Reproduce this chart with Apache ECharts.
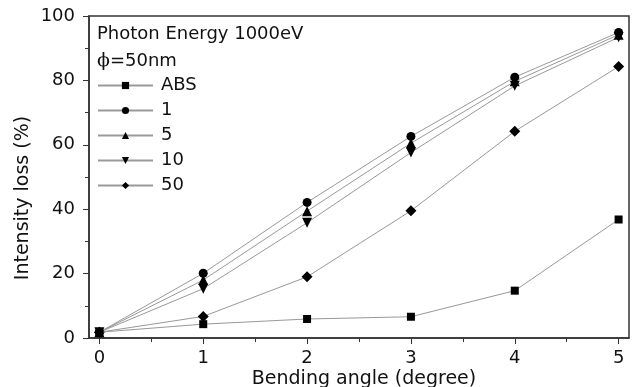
<!DOCTYPE html>
<html>
<head>
<meta charset="utf-8">
<script src="https://cdn.jsdelivr.net/npm/echarts@6/dist/echarts.min.js"></script>
<style>
    html,body{margin:0;padding:0;background:#fff;}
    #chart{width:640px;height:387px;}
</style>
</head>
<body>
<div id="chart"></div>
<script>
// 数据
var angles = [0, 1, 2, 3, 4, 5];
var seriesNames = ['ABS', '1', '5', '10', '50'];
var absVals = [1.8, 4.3, 5.9, 6.6, 14.7, 36.8];
var vals1 = [1.8, 20.1, 42.1, 62.6, 81.0, 94.9];
var vals5 = [1.8, 18.0, 39.4, 60.5, 79.7, 94.2];
var vals10 = [1.8, 15.3, 35.8, 57.6, 78.3, 93.4];
var vals50 = [1.8, 6.7, 19.0, 39.5, 64.2, 84.3];
var xMajor = [0, 1, 2, 3, 4, 5];
var xMinor = [0.5, 1.5, 2.5, 3.5, 4.5];

var font = 'DejaVu Sans, Liberation Sans, sans-serif';
var axisColor = '#333';
var txtColor = '#111';

function pairs(vals) {
    var out = [];
    for (var i = 0; i < angles.length; i++) {
        out.push([angles[i], vals[i]]);
    }
    return out;
}

var downTri = 'path://M0,0 L10,0 L5,9 Z';
var symbols = ['rect', 'circle', 'triangle', downTri, 'diamond'];
var sizes = [8, 9, 10, 10, 11];
var allVals = [absVals, vals1, vals5, vals10, vals50];

var series = [];
for (var i = 0; i < seriesNames.length; i++) {
    series.push({
        name: seriesNames[i],
        type: 'line',
        data: pairs(allVals[i]),
        symbol: symbols[i],
        symbolSize: sizes[i],
        showAllSymbol: true,
        lineStyle: {color: '#999', width: 1},
        itemStyle: {color: '#000'},
        z: 5 - i
    });
}

var myChart = echarts.init(document.getElementById('chart'));
var option = {
    animation: false,
    backgroundColor: '#fff',
    textStyle: {fontFamily: font},
    grid: {
        left: 89, right: 11, top: 16, bottom: 49,
        outerBoundsMode: 'none',
        containLabel: false,
        show: true, borderColor: axisColor, borderWidth: 1.5, backgroundColor: 'transparent'
    },
    graphic: [{
        type: 'text',
        left: 97, top: 25,
        style: {text: 'Photon Energy 1000eV', font: '18px ' + font, fill: txtColor}
    }, {
        type: 'text',
        left: 97, top: 52,
        style: {
            text: '{p|ϕ}=50nm', font: '18px ' + font, fill: txtColor,
            rich: {p: {fontFamily: 'DejaVu Serif, serif', fontSize: 19, fill: txtColor}}
        }
    }, {
        type: 'text',
        x: 23, y: 198, rotation: Math.PI / 2,
        style: {text: 'Intensity loss (%)', font: '19px ' + font, fill: txtColor,
            align: 'center', verticalAlign: 'middle'}
    }, {
        type: 'text',
        x: 364, y: 379,
        style: {text: 'Bending angle (degree)', font: '19px ' + font, fill: txtColor,
            align: 'center', verticalAlign: 'middle'}
    }],
    legend: {
        orient: 'vertical',
        left: 97, top: 76.5,
        padding: 0,
        itemWidth: 55, itemHeight: 9, itemGap: 7,
        data: seriesNames,
        textStyle: {fontFamily: font, fontSize: 18, color: txtColor, padding: [0, 0, 0, 3]}
    },
    xAxis: [{
        type: 'value',
        min: -0.1, max: 5.1,
        axisLine: {show: true, onZero: false, lineStyle: {color: axisColor, width: 1.5}},
        axisTick: {show: true, length: 6, customValues: xMajor, lineStyle: {color: axisColor}},
        axisLabel: {customValues: xMajor, fontFamily: font, fontSize: 18, color: txtColor, margin: 11},
        splitLine: {show: false}
    }, {
        type: 'value',
        min: -0.1, max: 5.1,
        position: 'bottom',
        axisLine: {show: false, onZero: false},
        axisTick: {show: true, length: 4, customValues: xMinor, lineStyle: {color: axisColor}},
        axisLabel: {show: false},
        splitLine: {show: false}
    }],
    yAxis: {
        type: 'value',
        min: 0, max: 100, interval: 20,
        axisLine: {show: true, onZero: false, lineStyle: {color: axisColor, width: 1.5}},
        axisTick: {show: true, length: 6, lineStyle: {color: axisColor}},
        minorTick: {show: true, splitNumber: 2, length: 4, lineStyle: {color: axisColor}},
        axisLabel: {fontFamily: font, fontSize: 18, color: txtColor, margin: 14},
        splitLine: {show: false}
    },
    series: series
};
myChart.setOption(option);
</script>
</body>
</html>
